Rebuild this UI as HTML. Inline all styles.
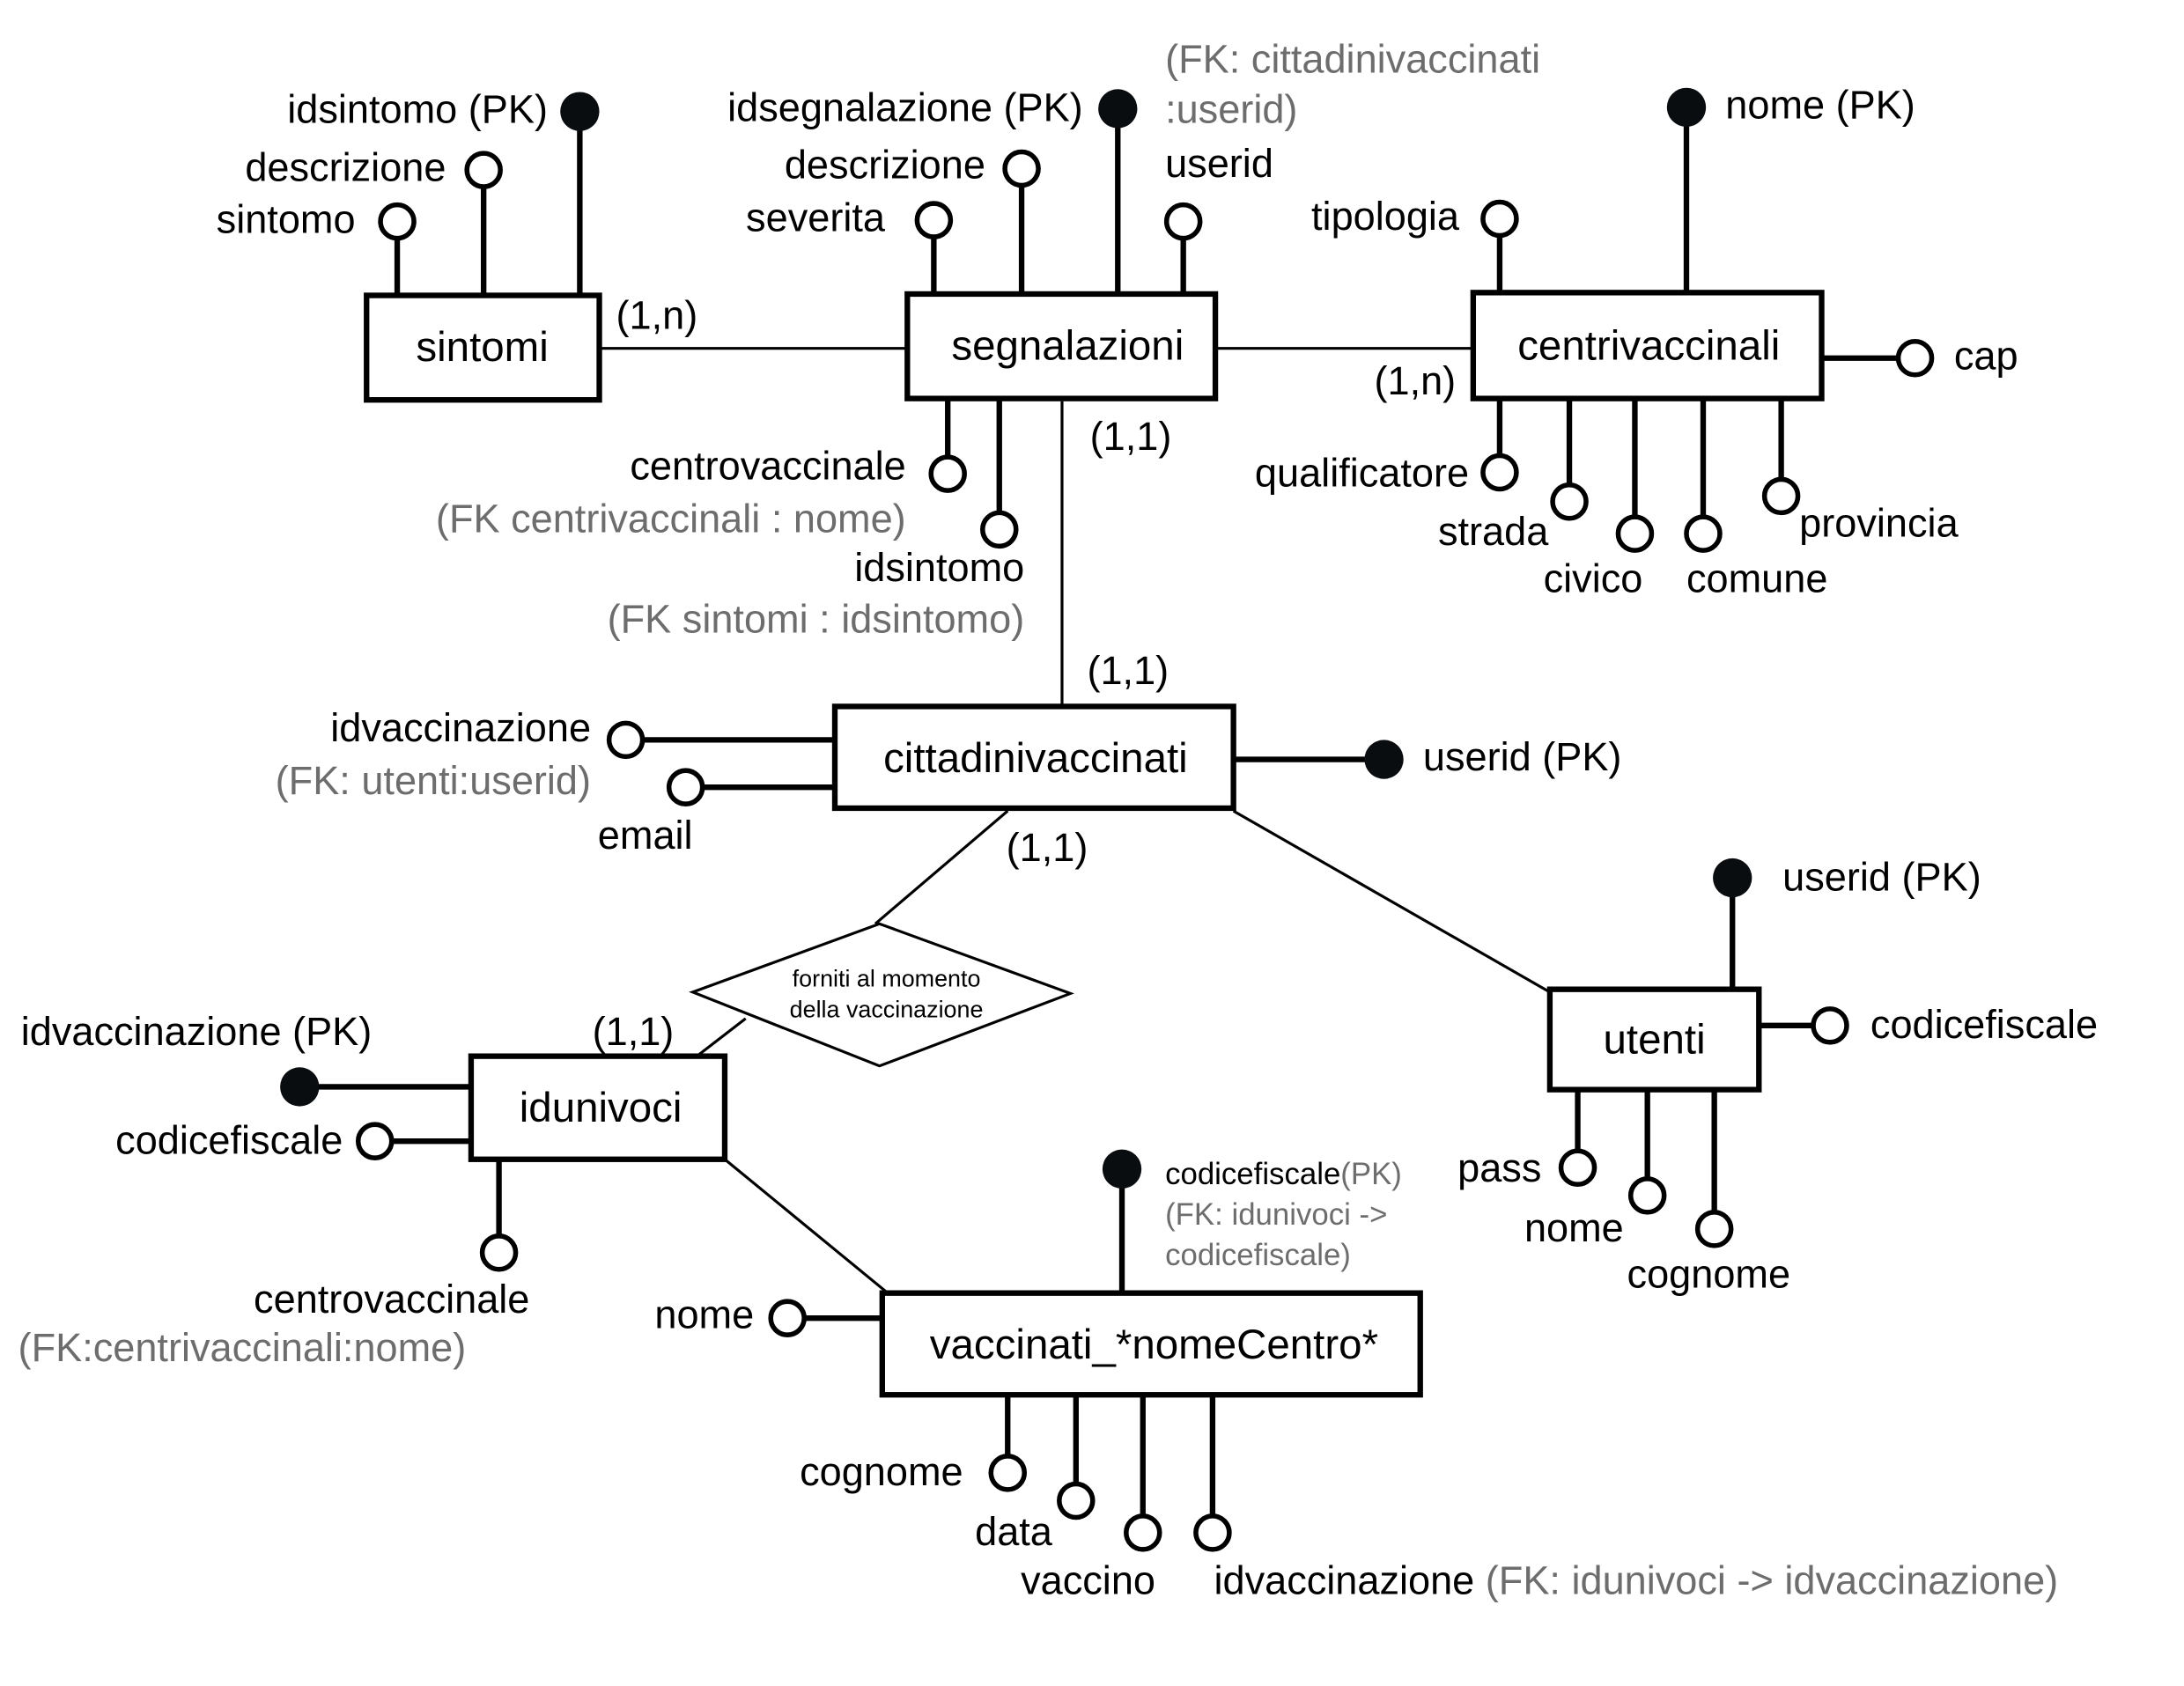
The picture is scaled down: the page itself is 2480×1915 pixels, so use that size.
<!DOCTYPE html>
<html><head><meta charset="utf-8"><style>html,body{margin:0;padding:0;background:#fff}svg{display:block}</style></head>
<body>
<svg width="2480" height="1915" viewBox="0 0 1567 1210" preserveAspectRatio="none" xmlns="http://www.w3.org/2000/svg" font-family="Liberation Sans, sans-serif" font-size="28.5">
<rect width="1567" height="1210" fill="#fff"/>
<g stroke="#000" stroke-width="2" fill="none">
<line x1="430" y1="250" x2="651" y2="250"/>
<line x1="872" y1="250" x2="1057" y2="250"/>
<line x1="762" y1="288" x2="762" y2="507"/>
<line x1="723" y1="582" x2="628" y2="663"/>
<line x1="885" y1="582" x2="1112" y2="712"/>
<line x1="535" y1="731" x2="500" y2="758"/>
<line x1="520" y1="832" x2="637" y2="928"/>
<polygon points="497,712 631,663 768,713 631,765"/>
</g>
<g stroke="#000" stroke-width="4" fill="none">
<rect x="263" y="212" width="167" height="75"/>
<rect x="651" y="211" width="221" height="75"/>
<rect x="1057" y="210" width="250" height="76"/>
<rect x="599" y="507" width="286" height="73"/>
<rect x="1112" y="710" width="150" height="72"/>
<rect x="338" y="758" width="182" height="74"/>
<rect x="633" y="928" width="386" height="73"/>
<line x1="285" y1="171" x2="285" y2="212"/>
<line x1="347" y1="134" x2="347" y2="212"/>
<line x1="416" y1="80" x2="416" y2="212"/>
<line x1="670" y1="170" x2="670" y2="211"/>
<line x1="733" y1="133" x2="733" y2="211"/>
<line x1="802" y1="78" x2="802" y2="211"/>
<line x1="849" y1="171" x2="849" y2="211"/>
<line x1="680" y1="286" x2="680" y2="328"/>
<line x1="717" y1="286" x2="717" y2="368"/>
<line x1="1076" y1="169" x2="1076" y2="210"/>
<line x1="1210" y1="77" x2="1210" y2="210"/>
<line x1="1307" y1="257" x2="1362" y2="257"/>
<line x1="1076" y1="286" x2="1076" y2="327"/>
<line x1="1126" y1="286" x2="1126" y2="348"/>
<line x1="1173" y1="286" x2="1173" y2="371"/>
<line x1="1222" y1="286" x2="1222" y2="371"/>
<line x1="1278" y1="286" x2="1278" y2="344"/>
<line x1="461" y1="531" x2="599" y2="531"/>
<line x1="504" y1="565" x2="599" y2="565"/>
<line x1="885" y1="545" x2="993" y2="545"/>
<line x1="1243" y1="630" x2="1243" y2="710"/>
<line x1="1262" y1="736" x2="1301" y2="736"/>
<line x1="1132" y1="782" x2="1132" y2="826"/>
<line x1="1182" y1="782" x2="1182" y2="846"/>
<line x1="1230" y1="782" x2="1230" y2="870"/>
<line x1="215" y1="780" x2="338" y2="780"/>
<line x1="281" y1="819" x2="338" y2="819"/>
<line x1="358" y1="832" x2="358" y2="887"/>
<line x1="805" y1="839" x2="805" y2="928"/>
<line x1="577" y1="946" x2="633" y2="946"/>
<line x1="723" y1="1001" x2="723" y2="1045"/>
<line x1="772" y1="1001" x2="772" y2="1065"/>
<line x1="820" y1="1001" x2="820" y2="1088"/>
<line x1="870" y1="1001" x2="870" y2="1088"/>
</g>
<g stroke="#000" stroke-width="3.5" fill="#fff">
<circle cx="285" cy="159" r="12"/>
<circle cx="347" cy="122" r="12"/>
<circle cx="670" cy="158" r="12"/>
<circle cx="733" cy="121" r="12"/>
<circle cx="849" cy="159" r="12"/>
<circle cx="680" cy="340" r="12"/>
<circle cx="717" cy="380" r="12"/>
<circle cx="1076" cy="157" r="12"/>
<circle cx="1374" cy="257" r="12"/>
<circle cx="1076" cy="339" r="12"/>
<circle cx="1126" cy="360" r="12"/>
<circle cx="1173" cy="383" r="12"/>
<circle cx="1222" cy="383" r="12"/>
<circle cx="1278" cy="356" r="12"/>
<circle cx="449" cy="531" r="12"/>
<circle cx="492" cy="565" r="12"/>
<circle cx="1313" cy="736" r="12"/>
<circle cx="1132" cy="838" r="12"/>
<circle cx="1182" cy="858" r="12"/>
<circle cx="1230" cy="882" r="12"/>
<circle cx="269" cy="819" r="12"/>
<circle cx="358" cy="899" r="12"/>
<circle cx="565" cy="946" r="12"/>
<circle cx="723" cy="1057" r="12"/>
<circle cx="772" cy="1077" r="12"/>
<circle cx="820" cy="1100" r="12"/>
<circle cx="870" cy="1100" r="12"/>
</g>
<g fill="#0a0d0f">
<circle cx="416" cy="80" r="14"/>
<circle cx="802" cy="78" r="14"/>
<circle cx="1210" cy="77" r="14"/>
<circle cx="993" cy="545" r="14"/>
<circle cx="1243" cy="630" r="14"/>
<circle cx="215" cy="780" r="14"/>
<circle cx="805" cy="839" r="14"/>
</g>
<g fill="#000" text-anchor="middle" font-size="30">
<text x="346" y="259">sintomi</text>
<text x="766" y="258">segnalazioni</text>
<text x="1183" y="258">centrivaccinali</text>
<text x="743" y="554">cittadinivaccinati</text>
<text x="1187" y="756">utenti</text>
<text x="431" y="805">idunivoci</text>
<text x="828" y="975">vaccinati_*nomeCentro*</text>
</g>
<g fill="#000" text-anchor="middle">
<text x="1143" y="425">civico</text>
<text x="1226" y="924">cognome</text>
<text x="636" y="708" font-size="17">forniti al momento</text>
<text x="636" y="730" font-size="17">della vaccinazione</text>
</g>
<g fill="#000" text-anchor="end">
<text x="393" y="88">idsintomo (PK)</text>
<text x="320" y="130">descrizione</text>
<text x="255" y="167">sintomo</text>
<text x="777" y="87">idsegnalazione (PK)</text>
<text x="707" y="128">descrizione</text>
<text x="635" y="166">severita</text>
<text x="650" y="344">centrovaccinale</text>
<text x="735" y="417">idsintomo</text>
<text x="1047" y="165">tipologia</text>
<text x="1054" y="349">qualificatore</text>
<text x="1111" y="391">strada</text>
<text x="424" y="532">idvaccinazione</text>
<text x="497" y="609">email</text>
<text x="1106" y="848">pass</text>
<text x="1165" y="891">nome</text>
<text x="246" y="828">codicefiscale</text>
<text x="380" y="942">centrovaccinale</text>
<text x="541" y="953">nome</text>
<text x="691" y="1066">cognome</text>
<text x="755" y="1109">data</text>
<text x="829" y="1144">vaccino</text>
</g>
<g fill="#6d6d6d" text-anchor="end">
<text x="650" y="382">(FK centrivaccinali : nome)</text>
<text x="735" y="454">(FK sintomi : idsintomo)</text>
<text x="424" y="570">(FK: utenti:userid)</text>
</g>
<g fill="#000">
<text x="836" y="127">userid</text>
<text x="1238" y="85">nome (PK)</text>
<text x="1402" y="265">cap</text>
<text x="1291" y="385">provincia</text>
<text x="1210" y="425">comune</text>
<text x="1021" y="553">userid (PK)</text>
<text x="1279" y="639">userid (PK)</text>
<text x="1342" y="745">codicefiscale</text>
<text x="15" y="750">idvaccinazione (PK)</text>
<text x="442" y="236">(1,n)</text>
<text x="986" y="283">(1,n)</text>
<text x="782" y="323">(1,1)</text>
<text x="780" y="491">(1,1)</text>
<text x="722" y="618">(1,1)</text>
<text x="425" y="750">(1,1)</text>
<text x="871" y="1144">idvaccinazione<tspan fill="#6d6d6d"> (FK: idunivoci -&gt; idvaccinazione)</tspan></text>
<text x="836" y="850" font-size="22">codicefiscale<tspan fill="#6d6d6d">(PK)</tspan></text>
</g>
<g fill="#6d6d6d">
<text x="836" y="52">(FK: cittadinivaccinati</text>
<text x="836" y="88">:userid)</text>
<text x="13" y="977">(FK:centrivaccinali:nome)</text>
<text x="836" y="879" font-size="22">(FK: idunivoci -&gt;</text>
<text x="836" y="908" font-size="22">codicefiscale)</text>
</g>
</svg>
</body></html>
